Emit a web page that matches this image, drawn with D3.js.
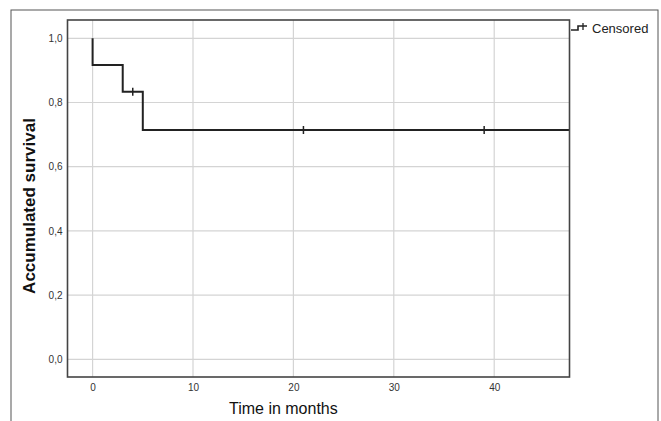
<!DOCTYPE html>
<html>
<head>
<meta charset="utf-8">
<script src="https://cdn.jsdelivr.net/npm/d3@7"></script>
<style>
body { margin: 0; background: #fff; }
svg { display: block; font-family: Arial, "Liberation Sans", sans-serif; }
</style>
</head>
<body>
<script>
// survival steps (time in months, survival after event)
var stepTimes = [0, 3, 5];
var stepSurvival = [0.9167, 0.8333, 0.7143];
var censorTimes = [4, 21, 39];
var lastTime = 47.5;
var xTicks = [0, 10, 20, 30, 40];
var yTicks = [0, 0.2, 0.4, 0.6, 0.8, 1.0];

var width = 661, height = 421;
var svg = d3.select("body").append("svg")
    .attr("width", width)
    .attr("height", height);

// outer frame
svg.append("rect")
    .attr("x", 11).attr("y", 10)
    .attr("width", 647).attr("height", 420)
    .attr("fill", "none")
    .attr("stroke", "#555")
    .attr("stroke-width", 1);

var plotLeft = 67.5, plotRight = 569.5, plotTop = 20, plotBottom = 377;

var x = d3.scaleLinear().domain([-2.5, 47.5]).range([plotLeft, plotRight]);
var y = d3.scaleLinear().domain([-0.055, 1.057]).range([plotBottom, plotTop]);

// grid
svg.selectAll(".vgrid")
    .data(xTicks)
    .enter()
    .append("line")
    .attr("x1", function(d) { return x(d); })
    .attr("x2", function(d) { return x(d); })
    .attr("y1", plotTop).attr("y2", plotBottom)
    .attr("stroke", "#d4d4d4")
    .attr("stroke-width", 1.2);

svg.selectAll(".hgrid")
    .data(yTicks)
    .enter()
    .append("line")
    .attr("y1", function(d) { return y(d); })
    .attr("y2", function(d) { return y(d); })
    .attr("x1", plotLeft).attr("x2", plotRight)
    .attr("stroke", "#d4d4d4")
    .attr("stroke-width", 1.2);

// axes (labels only)
var xAxis = svg.append("g")
    .attr("transform", "translate(0," + plotBottom + ")")
    .call(d3.axisBottom(x).tickValues(xTicks).tickSize(0).tickPadding(7));
xAxis.select(".domain").remove();
xAxis.selectAll("text").attr("font-size", 10).attr("fill", "#333")
    .attr("font-family", "Arial, 'Liberation Sans', sans-serif");

var yAxis = svg.append("g")
    .attr("transform", "translate(" + plotLeft + ",0)")
    .call(d3.axisLeft(y).tickValues(yTicks).tickSize(0).tickPadding(5)
        .tickFormat(function(d) { return d3.format(".1f")(d).replace(".", ","); }));
yAxis.select(".domain").remove();
yAxis.selectAll("text").attr("font-size", 10).attr("fill", "#333")
    .attr("font-family", "Arial, 'Liberation Sans', sans-serif");

// survival curve
var pts = [[0, 1]];
var prev = 1;
stepTimes.forEach(function(t, i) {
    pts.push([t, prev]);
    pts.push([t, stepSurvival[i]]);
    prev = stepSurvival[i];
});
pts.push([lastTime, prev]);

svg.append("path")
    .datum(pts)
    .attr("fill", "none")
    .attr("stroke", "#222")
    .attr("stroke-width", 2)
    .attr("d", d3.line()
        .x(function(d) { return x(d[0]); })
        .y(function(d) { return y(d[1]); }));

function survAt(t) {
    var s = 1;
    stepTimes.forEach(function(st, i) { if (st <= t) s = stepSurvival[i]; });
    return s;
}

svg.selectAll(".censor")
    .data(censorTimes)
    .enter()
    .append("line")
    .attr("x1", function(d) { return x(d); })
    .attr("x2", function(d) { return x(d); })
    .attr("y1", function(d) { return y(survAt(d)) - 4; })
    .attr("y2", function(d) { return y(survAt(d)) + 4; })
    .attr("stroke", "#222")
    .attr("stroke-width", 1.5);

// plot frame
svg.append("rect")
    .attr("x", plotLeft).attr("y", plotTop)
    .attr("width", plotRight - plotLeft).attr("height", plotBottom - plotTop)
    .attr("fill", "none")
    .attr("stroke", "#444")
    .attr("stroke-width", 1.6);

// axis titles
svg.append("text")
    .attr("x", x(19))
    .attr("y", 414)
    .attr("text-anchor", "middle")
    .attr("font-size", 16)
    .attr("fill", "#111")
    .text("Time in months");

svg.append("text")
    .attr("transform", "translate(35,206) rotate(-90)")
    .attr("text-anchor", "middle")
    .attr("font-size", 17)
    .attr("font-weight", "bold")
    .attr("fill", "#111")
    .text("Accumulated survival");

// legend
var lg = svg.append("g").attr("transform", "translate(571,28)");
lg.append("path")
    .attr("d", "M0,2 H7 V-2 H16")
    .attr("fill", "none")
    .attr("stroke", "#222")
    .attr("stroke-width", 1.6);
lg.append("line")
    .attr("x1", 12).attr("x2", 12).attr("y1", -5).attr("y2", 2)
    .attr("stroke", "#222").attr("stroke-width", 1.3);
lg.append("text")
    .attr("x", 21).attr("y", 5)
    .attr("font-size", 13)
    .attr("fill", "#222")
    .text("Censored");
</script>
</body>
</html>
